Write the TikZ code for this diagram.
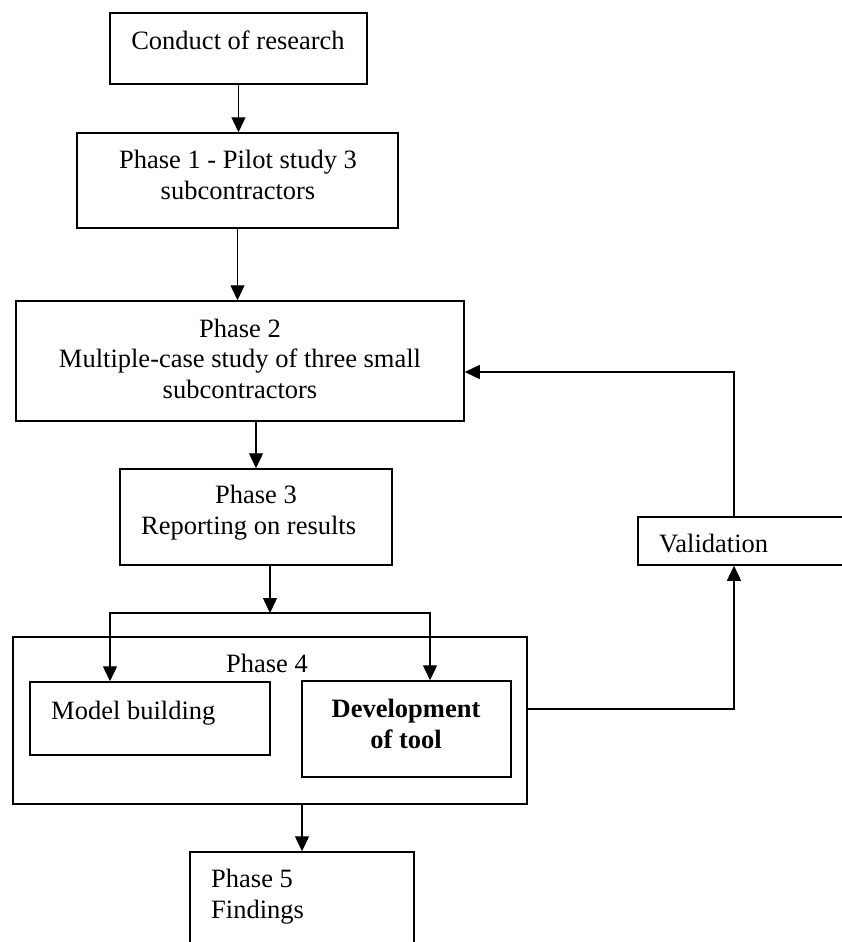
\documentclass[tikz,border=0pt]{standalone}
\usepackage{fontspec}
\setmainfont{Liberation Serif}
\usetikzlibrary{arrows.meta}
\begin{document}
\begin{tikzpicture}[x=1pt,y=-1pt,
  box/.style={draw, line width=1.5pt, inner sep=0pt, rectangle},
  lbl/.style={anchor=base, inner sep=0pt, font=\fontsize{26.5}{31}\selectfont},
  lbll/.style={anchor=base west, inner sep=0pt, font=\fontsize{26.5}{31}\selectfont},
  conn/.style={line width=1.4pt},
  arr/.style={line width=1.4pt, -{Triangle[length=15pt,width=14pt]}},
  darr/.style={line width=1.4pt, {Triangle[length=15pt,width=14pt]}-{Triangle[length=15pt,width=14pt]}}
]
\useasboundingbox (0,0) rectangle (841,942);
\fill[white] (0,0) rectangle (841,942);

% boxes
\node[box, minimum width=257pt, minimum height=71pt] (conduct) at (238.5,48.5) {};
\node[box, minimum width=321pt, minimum height=95pt] (p1) at (237.5,180.5) {};
\node[box, minimum width=448pt, minimum height=120pt] (p2) at (240,361) {};
\node[box, minimum width=272pt, minimum height=96pt] (p3) at (256,517) {};
\node[box, minimum width=514pt, minimum height=167pt] (p4) at (270,720.5) {};
\node[box, minimum width=240pt, minimum height=73pt] (model) at (150,718.5) {};
\node[box, minimum width=209pt, minimum height=96pt] (dev) at (406.5,729) {};
\node[box, minimum width=210pt, minimum height=48pt] (valid) at (743,541) {};
\node[box, minimum width=224pt, minimum height=100pt] (p5) at (302,902) {};

% texts
\node[lbl] (t0) at (238,49) {Conduct of research};
\node[lbl] (t1a) at (238,168) {Phase 1 - Pilot study 3};
\node[lbl] (t1b) at (238,199) {subcontractors};
\node[lbl] (t2a) at (240,337) {Phase 2};
\node[lbl] (t2b) at (240,367) {Multiple-case study of three small};
\node[lbl] (t2c) at (240,398) {subcontractors};
\node[lbl] (t3a) at (256,503) {Phase 3};
\node[lbll] (t3b) at (141,534) {Reporting on results};
\node[lbl] (t4) at (267,672) {Phase 4};
\node[lbll] (tm) at (51,719) {Model building};
\node[lbl] (td1) at (406,717) {\bfseries Development};
\node[lbl] (td2) at (406,748) {\bfseries of tool};
\node[lbll] (tv) at (659,552) {Validation};
\node[lbll] (t5a) at (211,887) {Phase 5};
\node[lbll] (t5b) at (211,918) {Findings};

% helper coordinates
\coordinate (br) at (270,613);
\coordinate (brL) at (110,613);
\coordinate (brR) at (430,613);
\coordinate (fb1) at (734,709);
\coordinate (fb2) at (734,372);

% connectors
\draw[arr] (conduct.south) -- (conduct.south |- p1.north);
\draw[arr] (p1.south) -- (p1.south |- p2.north);
\draw[arr] (p3.north |- p2.south) -- (p3.north);
\draw[arr] (p3.south -| br) -- (br);
\draw[darr] (brL |- model.north) -- (brL) -- (brR) -- (brR |- dev.north);
\draw[arr] (p5.north |- p4.south) -- (p5.north);
\draw[arr] (fb1 -| p4.east) -- (fb1) -- (fb1 |- valid.south);
\draw[arr] (fb2 |- valid.north) -- (fb2) -- (fb2 -| p2.east);
\end{tikzpicture}
\end{document}
